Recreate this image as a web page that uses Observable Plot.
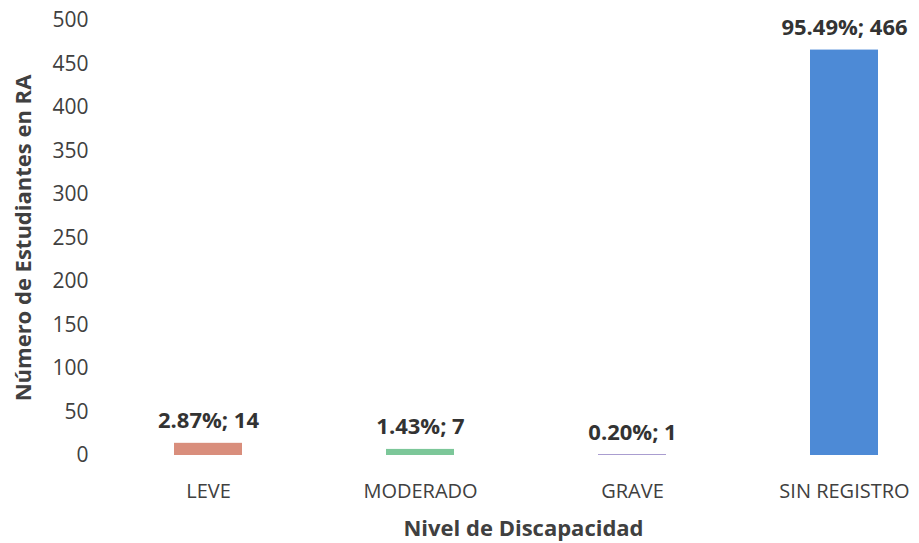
<!DOCTYPE html>
<html>
<head>
<meta charset="utf-8">
<script src="https://cdn.jsdelivr.net/npm/d3@7"></script>
<script src="https://cdn.jsdelivr.net/npm/@observablehq/plot@0.6"></script>
<style>
  html, body { margin: 0; padding: 0; background: #fff; }
  #chart svg { display: block; }
</style>
</head>
<body>
<div id="chart"></div>
<script>
const categories = ["LEVE", "MODERADO", "GRAVE", "SIN REGISTRO"];
const counts = [14, 7, 1, 466];
const percents = ["2.87%", "1.43%", "0.20%", "95.49%"];
const barColors = ["#d98e7c", "#7cc799", "#9e8fc9", "#4d8ad6"];
const yTicks = [0, 50, 100, 150, 200, 250, 300, 350, 400, 450, 500];

const data = categories.map((c, i) => ({
  category: c,
  count: counts[i],
  label: `${percents[i]}; ${counts[i]}`
}));

const chart = Plot.plot({
  width: 919,
  height: 543,
  marginLeft: 101,
  marginRight: 0,
  marginTop: 20,
  marginBottom: 88,
  style: { fontFamily: "'Open Sans', Lato, sans-serif", background: "#fff" },
  x: {
    domain: categories,
    range: [101, 951],
    paddingInner: 0.68,
    paddingOuter: 0.34,
    label: "Nivel de Discapacidad",
    labelAnchor: "center"
  },
  y: {
    domain: [0, 500],
    range: [455, 20],
    ticks: yTicks,
    label: "Número de Estudiantes en RA",
    labelAnchor: "center"
  },
  color: { domain: categories, range: barColors },
  marks: [
    Plot.barY(data, { x: "category", y: "count", fill: "category" }),
    Plot.text(data, {
      x: "category", y: "count", text: "label",
      dy: -22, fontSize: 22, fontWeight: "bold", fill: "#333"
    }),
    Plot.axisY({
      ticks: yTicks, tickSize: 0, tickPadding: 13, fontSize: 21, color: "#404040",
      label: "Número de Estudiantes en RA", labelAnchor: "center", labelArrow: "none",
      labelOffset: 86
    }),
    Plot.axisX({
      tickSize: 0, tickPadding: 28, fontSize: 20, color: "#404040",
      label: "Nivel de Discapacidad", labelAnchor: "center", labelArrow: "none",
      labelOffset: 80
    })
  ]
});

chart.querySelectorAll("[aria-label='y-axis label'] text, [aria-label='x-axis label'] text").forEach(t => {
  t.setAttribute("font-weight", "bold");
  t.setAttribute("font-size", "22");
  t.setAttribute("fill", "#404040");
});
const xl = chart.querySelector("[aria-label='x-axis label']");
if (xl) xl.setAttribute("transform", (xl.getAttribute("transform") || "") + " translate(13,0)");
document.getElementById("chart").appendChild(chart);
</script>
</body>
</html>
